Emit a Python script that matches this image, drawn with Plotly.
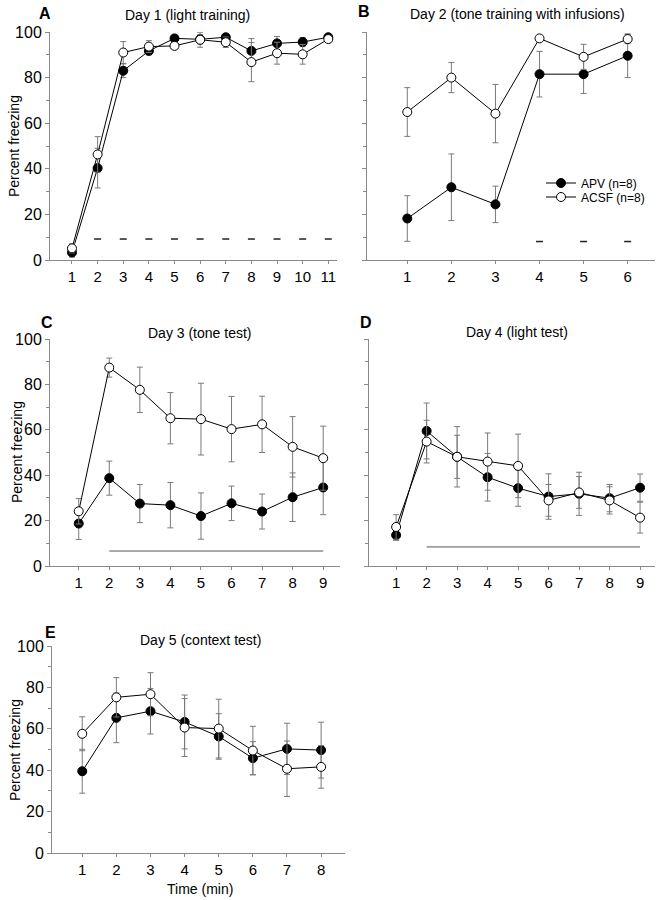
import plotly.graph_objects as go

# ---------------- data ----------------
x_A = [1, 2, 3, 4, 5, 6, 7, 8, 9, 10, 11]
apv_A = [3.3, 40.3, 83.0, 91.7, 97.2, 96.8, 97.7, 91.7, 95.0, 95.6, 97.7]
apv_A_err = [2.0, 8.7, 3.0, 1.7, 1.5, 2.0, 1.0, 5.4, 3.0, 2.0, 1.0]
acsf_A = [5.1, 46.3, 91.0, 93.6, 93.9, 96.6, 95.5, 86.8, 90.7, 90.2, 96.9]
acsf_A_err = [2.0, 7.8, 4.8, 2.6, 1.5, 3.3, 2.3, 8.6, 4.8, 4.3, 1.5]
sig_A_x = [2, 3, 4, 5, 6, 7, 8, 9, 10, 11]
sig_A_y = 9.2

x_B = [1, 2, 3, 4, 5, 6]
apv_B = [18.2, 31.9, 24.4, 81.5, 81.5, 89.6]
apv_B_err = [10.0, 14.6, 8.0, 10.0, 8.5, 9.6]
acsf_B = [64.9, 80.0, 64.2, 97.2, 89.1, 96.9]
acsf_B_err = [10.7, 6.6, 12.8, 1.0, 5.5, 2.0]
sig_B_x = [4, 5, 6]
sig_B_y = 8.1

x_C = [1, 2, 3, 4, 5, 6, 7, 8, 9]
apv_C = [18.7, 38.7, 27.5, 26.8, 22.0, 27.6, 24.0, 30.3, 34.6]
apv_C_err = [7.0, 7.5, 8.4, 10.0, 10.2, 7.6, 7.7, 10.7, 12.0]
acsf_C = [24.1, 87.4, 77.6, 65.1, 64.7, 60.3, 62.4, 52.5, 47.5]
acsf_C_err = [5.6, 4.2, 10.0, 11.3, 15.8, 14.4, 12.4, 13.3, 14.1]
bar_C_x = [2, 9]
bar_C_y = 6.6

x_D = [1, 2, 3, 4, 5, 6, 7, 8, 9]
apv_D = [13.6, 59.5, 48.1, 39.1, 34.3, 30.6, 31.8, 29.9, 34.5]
apv_D_err = [2.3, 12.3, 9.5, 10.5, 8.0, 10.0, 9.5, 6.0, 6.0]
acsf_D = [17.2, 54.8, 48.1, 46.0, 44.1, 28.9, 32.4, 28.9, 21.3]
acsf_D_err = [5.4, 9.4, 13.3, 12.6, 14.0, 7.0, 7.0, 6.0, 6.8]
bar_D_x = [2, 9]
bar_D_y = 8.4

x_E = [1, 2, 3, 4, 5, 6, 7, 8]
apv_E = [39.5, 65.3, 68.5, 63.3, 56.3, 45.8, 50.3, 49.7]
apv_E_err = [10.6, 12.0, 11.0, 13.0, 11.0, 8.0, 12.4, 13.5]
acsf_E = [57.6, 75.2, 76.7, 60.6, 60.1, 49.5, 40.7, 41.6]
acsf_E_err = [8.2, 9.5, 10.4, 14.0, 14.2, 11.7, 13.4, 10.3]

y_ticks = [0, 20, 40, 60, 80, 100]
titles = ["Day 1 (light training)", "Day 2 (tone training with infusions)",
          "Day 3 (tone test)", "Day 4 (light test)", "Day 5 (context test)"]
letters = ["A", "B", "C", "D", "E"]

# ---------------- layout helpers ----------------
W, H = 665, 900
FONT = "Arial"
AX_COL = "#8a8a8a"
ERR_COL = "#7a7a7a"

def px_x(p):
    return p / W

def px_y(p):
    return 1 - p / H

panels = [
    dict(l=50, r=337, t=32, b=260, xr=[0.142, 11.34], xs=x_A, labels=True),
    dict(l=367, r=655, t=32, b=260, xr=[0.086, 6.62], xs=x_B, labels=False),
    dict(l=50, r=340, t=339, b=566, xr=[0.06, 9.55], xs=x_C, labels=True),
    dict(l=369, r=655, t=339, b=566, xr=[0.11, 9.49], xs=x_D, labels=False),
    dict(l=52, r=345, t=646, b=853, xr=[0.114, 8.7], xs=x_E, labels=True),
]

fig = go.Figure()

series = [
    (x_A, apv_A, apv_A_err, acsf_A, acsf_A_err),
    (x_B, apv_B, apv_B_err, acsf_B, acsf_B_err),
    (x_C, apv_C, apv_C_err, acsf_C, acsf_C_err),
    (x_D, apv_D, apv_D_err, acsf_D, acsf_D_err),
    (x_E, apv_E, apv_E_err, acsf_E, acsf_E_err),
]

for i, (xs, a, ae, c, ce) in enumerate(series):
    n = "" if i == 0 else str(i + 1)
    xa, ya = "x" + n, "y" + n
    fig.add_trace(go.Scatter(
        x=xs, y=a, mode="lines+markers", name="APV (n=8)",
        xaxis=xa, yaxis=ya, showlegend=(i == 1), legend="legend",
        cliponaxis=False,
        line=dict(color="black", width=1),
        marker=dict(symbol="circle", size=9, color="black",
                    line=dict(color="black", width=1)),
        error_y=dict(type="data", array=ae, color=ERR_COL, thickness=1, width=3),
    ))
    fig.add_trace(go.Scatter(
        x=xs, y=c, mode="lines+markers", name="ACSF (n=8)",
        xaxis=xa, yaxis=ya, showlegend=(i == 1), legend="legend2",
        cliponaxis=False,
        line=dict(color="black", width=1),
        marker=dict(symbol="circle", size=9, color="white",
                    line=dict(color="black", width=1)),
        error_y=dict(type="data", array=ce, color=ERR_COL, thickness=1, width=3),
    ))

# significance marks
fig.add_trace(go.Scatter(x=sig_A_x, y=[sig_A_y] * len(sig_A_x), mode="markers",
                         xaxis="x", yaxis="y", showlegend=False,
                         marker=dict(symbol="line-ew", size=5,
                                     line=dict(color="#222", width=1.5))))
fig.add_trace(go.Scatter(x=sig_B_x, y=[sig_B_y] * len(sig_B_x), mode="markers",
                         xaxis="x2", yaxis="y2", showlegend=False,
                         marker=dict(symbol="line-ew", size=5,
                                     line=dict(color="#222", width=1.5))))
fig.add_trace(go.Scatter(x=bar_C_x, y=[bar_C_y] * 2, mode="lines",
                         xaxis="x3", yaxis="y3", showlegend=False,
                         line=dict(color="#555", width=1)))
fig.add_trace(go.Scatter(x=bar_D_x, y=[bar_D_y] * 2, mode="lines",
                         xaxis="x4", yaxis="y4", showlegend=False,
                         line=dict(color="#555", width=1)))

leg_common = dict(xanchor="left", yanchor="middle", bgcolor="rgba(0,0,0,0)",
                  font=dict(size=12, family=FONT), itemwidth=30,
                  borderwidth=0)

layout = dict(
    width=W, height=H, autosize=False,
    margin=dict(l=0, r=0, t=0, b=0, autoexpand=False),
    paper_bgcolor="white", plot_bgcolor="white",
    font=dict(family=FONT, color="black", size=14),
    showlegend=True,
    legend=dict(x=px_x(541), y=px_y(183), **leg_common),
    legend2=dict(x=px_x(541), y=px_y(197), **leg_common),
)

annotations = []
for i, p in enumerate(panels):
    n = "" if i == 0 else str(i + 1)
    layout["xaxis" + n] = dict(
        domain=[px_x(p["l"]), px_x(p["r"])], anchor="y" + n,
        range=p["xr"], tickmode="array", tickvals=p["xs"],
        ticktext=[str(v) for v in p["xs"]],
        showline=True, linecolor=AX_COL, linewidth=1,
        ticks="outside", ticklen=3, tickcolor=AX_COL, tickwidth=1,
        showgrid=False, zeroline=False,
        tickfont=dict(size=15, family=FONT, color="black"),
    )
    layout["yaxis" + n] = dict(
        domain=[px_y(p["b"]), px_y(p["t"])], anchor="x" + n,
        range=[0, 100], tickmode="array", tickvals=y_ticks,
        showticklabels=p["labels"],
        showline=True, linecolor=AX_COL, linewidth=1,
        ticks="outside", ticklen=4, tickcolor=AX_COL, tickwidth=1,
        minor=dict(tickmode="linear", tick0=10, dtick=20, ticks="outside",
                   ticklen=3, tickcolor=AX_COL, tickwidth=1, showgrid=False),
        showgrid=False, zeroline=False,
        tickfont=dict(size=16, family=FONT, color="black"),
    )

def ann(x, y, text, size=14, angle=0):
    return dict(x=px_x(x), y=px_y(y), xref="paper", yref="paper",
                xanchor="center", yanchor="middle", text=text,
                showarrow=False, textangle=angle,
                font=dict(size=size, family=FONT, color="black"))

title_pos = [(187, 15), (517, 14), (200, 333), (517, 332), (200, 640)]
letter_pos = [(45, 13), (364, 12), (47, 323), (366, 323), (50, 632)]
for i in range(5):
    annotations.append(ann(*title_pos[i], titles[i], 14))
    annotations.append(ann(*letter_pos[i], "<b>" + letters[i] + "</b>", 16))

for (cx, cy) in [(14, 146), (17, 452), (15, 750)]:
    annotations.append(ann(cx, cy, "Percent freezing", 14, -90))
annotations.append(ann(200, 889, "Time (min)", 14))

layout["annotations"] = annotations
fig.update_layout(**layout)

fig.write_html("out.html",
               config={"displayModeBar": False, "staticPlot": True},
               post_script="document.body.style.margin='0';document.body.style.padding='0';")
